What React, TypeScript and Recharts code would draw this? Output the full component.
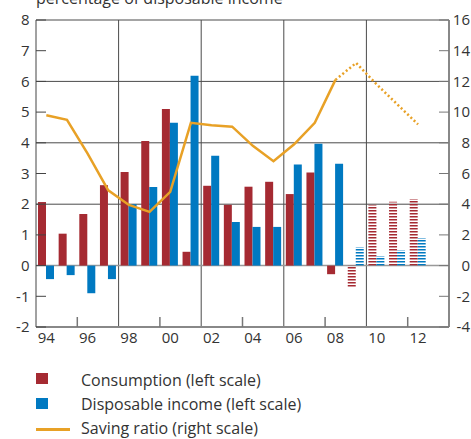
import React from "react";
import {
  ComposedChart,
  Bar,
  Line,
  XAxis,
  YAxis,
  CartesianGrid,
  Cell,
} from "recharts";

// chart values
const years = [
  "94", "95", "96", "97", "98", "99", "00", "01", "02", "03",
  "04", "05", "06", "07", "08", "09", "10", "11", "12", "13",
];
const consumption = [
  2.07, 1.04, 1.68, 2.62, 3.05, 4.06, 5.1, 0.45, 2.6, 1.98,
  2.57, 2.73, 2.33, 3.03, -0.28, -0.71, 1.98, 2.08, 2.17, null,
];
const income = [
  -0.44, -0.31, -0.9, -0.44, 2.0, 2.56, 4.65, 6.18, 3.58, 1.42,
  1.26, 1.26, 3.29, 3.97, 3.32, 0.6, 0.31, 0.5, 0.9, null,
];
const savingRatio = [
  9.8, 9.5, 7.3, 4.9, 3.95, 3.5, 4.8, 9.3, 9.15, 9.05,
  7.8, 6.8, 7.9, 9.3, 12.1, null, null, null, null, null,
];
const savingForecast = [
  null, null, null, null, null, null, null, null, null, null,
  null, null, null, null, 12.1, 13.2, 11.8, 10.5, 9.2, null,
];
const firstForecast = 15; // 2009 onwards are projections (hatched)
const leftTicks = [-2, -1, 0, 1, 2, 3, 4, 5, 6, 7, 8];
const rightTicks = [-4, -2, 0, 2, 4, 6, 8, 10, 12, 14, 16];

const RED = "#A52A32";
const BLUE = "#0079C1";
const ORANGE = "#E8A126";
const TEXT = "#333";
const FONT = "'Open Sans', sans-serif";

const PLOT_L = 36;
const PLOT_R = 449;
const PLOT_B = 327;
const BAND = (PLOT_R - PLOT_L) / years.length;

const data = years.map((year, i) => ({
  year,
  consumption: consumption[i],
  income: income[i],
  saving: savingRatio[i],
  forecast: savingForecast[i],
}));

const LeftTick = ({ y, payload }: any) => (
  <g>
    <line x1={PLOT_L} x2={PLOT_L + 10} y1={y} y2={y} stroke="#444" />
    <text x={29.5} y={y} dy="0.35em" textAnchor="end" fontSize={15} fill={TEXT}>
      {payload.value}
    </text>
  </g>
);

const RightTick = ({ y, payload }: any) => (
  <g>
    <line x1={PLOT_R - 10} x2={PLOT_R} y1={y} y2={y} stroke="#777" />
    <text x={470} y={y} dy="0.35em" textAnchor="end" fontSize={15} fill={TEXT}>
      {payload.value}
    </text>
  </g>
);

const BottomTick = ({ x, payload, index }: any) => {
  const i = payload.index ?? index;
  return (
    <g>
      {i % 4 === 2 && (
        <line
          x1={x - BAND / 2}
          x2={x - BAND / 2}
          y1={PLOT_B}
          y2={PLOT_B - 10}
          stroke="#777"
          strokeWidth={1.5}
        />
      )}
      {i % 2 === 0 && (
        <text x={x} y={343} textAnchor="middle" fontSize={15} fill={TEXT}>
          {payload.value}
        </text>
      )}
    </g>
  );
};

export default function App() {
  return (
    <div
      style={{
        position: "absolute",
        left: 0,
        top: 0,
        width: 471,
        height: 439,
        overflow: "hidden",
        background: "#fff",
        fontFamily: FONT,
      }}
    >
      <svg width={471} height={20} style={{ position: "absolute", left: 0, top: 0 }}>
        <text x={36} y={4} fontSize={16} fill={TEXT} fontFamily={FONT}>
          percentage of disposable income
        </text>
      </svg>

      <ComposedChart
        width={471}
        height={439}
        data={data}
        margin={{ top: 20, right: 0, bottom: 0, left: 0 }}
        barSize={8}
        barGap={0}
        style={{ fontFamily: FONT }}
      >
        <defs>
          <pattern id="hatchRed" patternUnits="userSpaceOnUse" width={8} height={3}>
            <rect x={0} y={0} width={8} height={1.5} fill={RED} />
          </pattern>
          <pattern id="hatchBlue" patternUnits="userSpaceOnUse" width={8} height={3}>
            <rect x={0} y={0} width={8} height={1.5} fill={BLUE} />
          </pattern>
        </defs>
        <CartesianGrid
          yAxisId="left"
          horizontalValues={[2, 4, 6, 8]}
          verticalCoordinatesGenerator={({ offset }: any) =>
            [1, 2, 3, 4].map((k) => offset.left + (offset.width * k) / 5)
          }
          stroke="#4a4a4a"
          strokeWidth={1}
        />
        <CartesianGrid
          yAxisId="left"
          vertical={false}
          horizontalValues={[0]}
          stroke="#999"
          strokeWidth={1.5}
        />
        <XAxis
          dataKey="year"
          height={112}
          interval={0}
          tickLine={false}
          axisLine={{ stroke: "#888", strokeWidth: 2 }}
          tick={<BottomTick />}
        />
        <YAxis
          yAxisId="left"
          width={36}
          domain={[-2, 8]}
          ticks={leftTicks}
          interval={0}
          tickLine={false}
          axisLine={{ stroke: "#444" }}
          tick={<LeftTick />}
        />
        <YAxis
          yAxisId="right"
          orientation="right"
          width={22}
          domain={[-4, 16]}
          ticks={rightTicks}
          interval={0}
          tickLine={false}
          axisLine={{ stroke: "#888", strokeWidth: 2 }}
          tick={<RightTick />}
        />
        <Line
          yAxisId="right"
          dataKey="saving"
          stroke={ORANGE}
          strokeWidth={2.5}
          dot={false}
          isAnimationActive={false}
        />
        <Line
          yAxisId="right"
          dataKey="forecast"
          stroke={ORANGE}
          strokeWidth={2.5}
          strokeDasharray="2 2.5"
          dot={false}
          isAnimationActive={false}
        />
        <Bar yAxisId="left" dataKey="consumption" isAnimationActive={false}>
          {data.map((_, i) => (
            <Cell key={i} fill={i >= firstForecast ? "url(#hatchRed)" : RED} />
          ))}
        </Bar>
        <Bar yAxisId="left" dataKey="income" isAnimationActive={false}>
          {data.map((_, i) => (
            <Cell key={i} fill={i >= firstForecast ? "url(#hatchBlue)" : BLUE} />
          ))}
        </Bar>
      </ComposedChart>

      <div style={{ position: "absolute", left: 36, top: 373, width: 12, height: 11, background: RED }} />
      <div style={{ position: "absolute", left: 36, top: 398, width: 12, height: 11, background: BLUE }} />
      <div style={{ position: "absolute", left: 36, top: 428, width: 34, height: 2.5, background: ORANGE }} />
      {[
        { label: "Consumption (left scale)", y: 380 },
        { label: "Disposable income (left scale)", y: 404 },
        { label: "Saving ratio (right scale)", y: 428 },
      ].map((d) => (
        <div
          key={d.label}
          style={{
            position: "absolute",
            left: 81,
            top: d.y - 10,
            height: 20,
            lineHeight: "20px",
            fontSize: 16,
            color: TEXT,
            whiteSpace: "nowrap",
          }}
        >
          {d.label}
        </div>
      ))}
    </div>
  );
}
